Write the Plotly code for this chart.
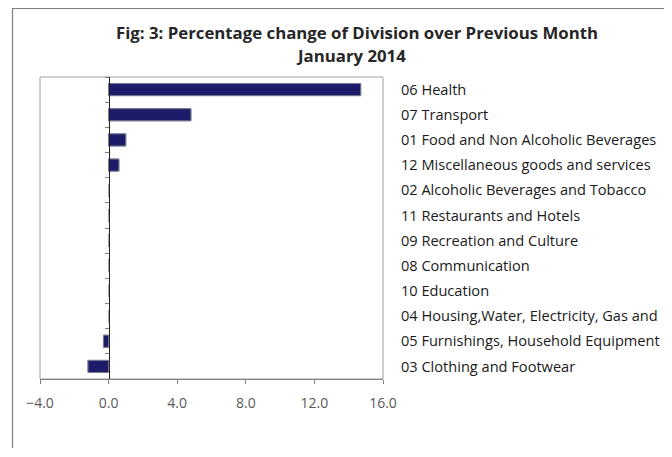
import plotly.graph_objects as go

categories = [
    "06 Health",
    "07 Transport",
    "01 Food and Non Alcoholic Beverages",
    "12 Miscellaneous goods and services",
    "02 Alcoholic Beverages and Tobacco",
    "11 Restaurants and Hotels",
    "09 Recreation and Culture",
    "08 Communication",
    "10 Education",
    "04 Housing,Water, Electricity, Gas and",
    "05 Furnishings, Household Equipment",
    "03 Clothing and Footwear",
]
pct_change = [14.7, 4.8, 1.0, 0.6, 0.0, 0.0, 0.0, 0.0, 0.0, 0.0, -0.3, -1.2]
x_ticks = [-4, 0, 4, 8, 12, 16]
title_line1 = "Fig: 3: Percentage change of Division over Previous Month"
title_line2 = "January 2014"

xmin, xmax = x_ticks[0], x_ticks[-1]
zero_pos = (0 - xmin) / (xmax - xmin)

# page body has an 8px margin; work in window pixel coordinates
OFF = 8
WIN_W, WIN_H = 672, 457
W, H = WIN_W - OFF, WIN_H - 2 * OFF
# plot area in window pixels: x 40..383, y 77..379
ml, mt = 40 - OFF, 77 - OFF
mr = W - (383 - OFF)
mb = H - (379 - OFF)
pw, ph = W - ml - mr, H - mt - mb


def px_to_paper_x(px):
    return (px - OFF - ml) / pw


def px_to_paper_y(py):
    return (H - mb - (py - OFF)) / ph


fig = go.Figure()
fig.add_trace(go.Bar(
    x=pct_change, y=categories, orientation="h",
    marker=dict(color="#1c1c6a", line=dict(color="#0a0a30", width=1)),
    yaxis="y", hoverinfo="x+y", showlegend=False,
))
# invisible twin trace to carry the right-hand category labels
fig.add_trace(go.Bar(
    x=pct_change, y=categories, orientation="h",
    marker=dict(color="rgba(0,0,0,0)"), yaxis="y2",
    hoverinfo="skip", showlegend=False,
))

font_lab = "'Open Sans', Lato, sans-serif"

fig.update_layout(
    width=W, height=H,
    margin=dict(l=ml, r=mr, t=mt, b=mb, autoexpand=False),
    paper_bgcolor="white", plot_bgcolor="white",
    bargap=0.52,
    xaxis=dict(
        range=[xmin, xmax], tickvals=x_ticks, tickformat=".1f",
        showgrid=False, zeroline=False, automargin=False,
        showline=True, linecolor="#808080", linewidth=1, mirror=False,
        ticks="outside", ticklen=4, tickcolor="#808080",
        tickfont=dict(family=font_lab, size=14, color="#595959"),
        ticklabelstandoff=7,
        fixedrange=True,
    ),
    yaxis=dict(
        type="category", categoryorder="array", categoryarray=categories,
        autorange="reversed", automargin=False,
        anchor="free", position=zero_pos, side="left",
        showline=True, linecolor="#202020", linewidth=1,
        ticks="outside", tickson="boundaries", ticklen=4, tickcolor="#808080",
        showticklabels=False, showgrid=False, zeroline=False,
        fixedrange=True,
    ),
    yaxis2=dict(
        type="category", categoryorder="array", categoryarray=categories,
        autorange="reversed", overlaying="y", side="right", anchor="x",
        automargin=False,
        showline=False, showgrid=False, zeroline=False,
        ticks="outside", ticklen=14, tickcolor="rgba(0,0,0,0)",
        tickfont=dict(family=font_lab, size=14.6, color="#1a1a1a"),
        fixedrange=True,
    ),
    annotations=[
        dict(text=title_line1, xref="paper", yref="paper",
             x=px_to_paper_x(357), y=px_to_paper_y(32), xanchor="center", yanchor="middle",
             showarrow=False, font=dict(family=font_lab, size=16.8, color="#262626", weight="bold")),
        dict(text=title_line2, xref="paper", yref="paper",
             x=px_to_paper_x(351), y=px_to_paper_y(56), xanchor="center", yanchor="middle",
             showarrow=False, font=dict(family=font_lab, size=16.8, color="#262626", weight="bold")),
    ],
    shapes=[
        # plot area frame
        dict(type="rect", xref="x domain", yref="y domain", x0=0, x1=1, y0=0, y1=1,
             line=dict(color="#a0a0a0", width=1), layer="below"),
        # outer chart border (top and left edges), kept inside the figure
        dict(type="path", xref="paper", yref="paper",
             path="M {:.5f},{:.5f} L {:.5f},{:.5f} L {:.5f},{:.5f}".format(
                 px_to_paper_x(12.5), px_to_paper_y(OFF + H - 1),
                 px_to_paper_x(12.5), px_to_paper_y(8.5),
                 px_to_paper_x(OFF + W - 1), px_to_paper_y(8.5)),
             line=dict(color="#7f7f7f", width=1.2)),
    ],
)

fig.write_html("out.html")
